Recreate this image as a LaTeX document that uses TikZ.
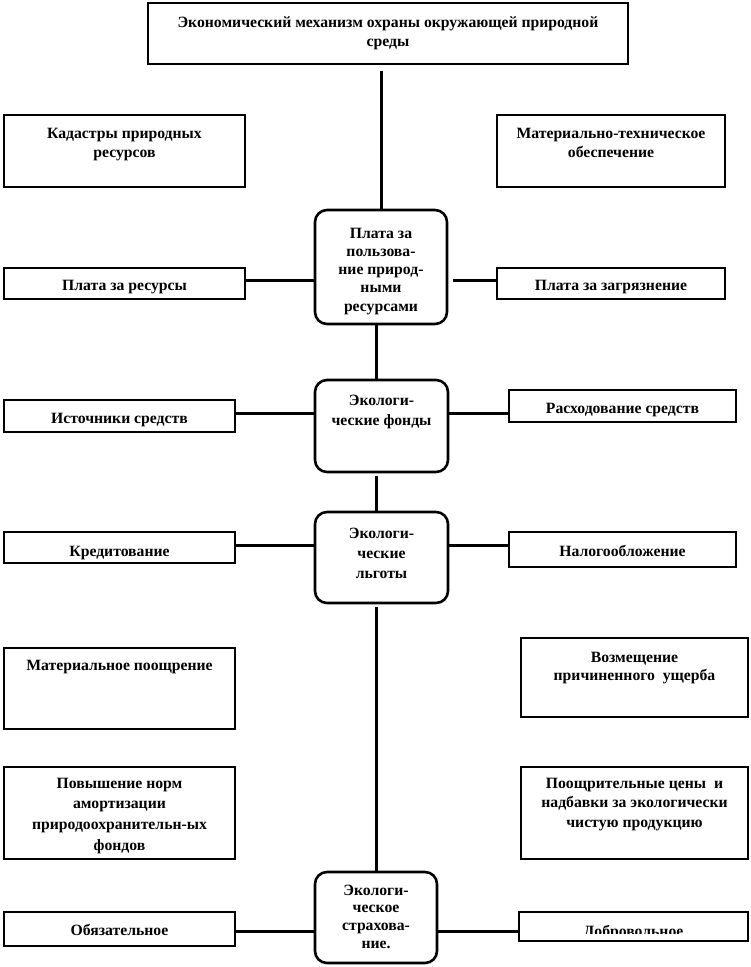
\documentclass[tikz,border=0pt]{standalone}
\usepackage{fontspec}
\setmainfont{Liberation Serif}
\usetikzlibrary{calc}
\newcommand\mybox[9]{%
  \node[#1] (#2) at ({(#3+#5)/2},{(#4+#6)/2})
    {\parbox[c][\dimexpr#6pt-#4pt\relax][t]{\dimexpr#5pt-#3pt\relax}{\centering\fontsize{15.7}{#8}\selectfont\bfseries
     \vspace*{\dimexpr#7pt-#4pt-11pt\relax}\rule{0pt}{11pt}#9\par}};}
\begin{document}
\begin{tikzpicture}[x=1pt,y=-1pt,
  sqbox/.style={draw,line width=2.6pt,inner sep=0pt,fill=white},
  rbox/.style={draw,line width=2.6pt,inner sep=0pt,rounded corners=12pt,fill=white},
  conn/.style={line width=3pt},
  txt/.style={inner sep=0pt,font=\fontsize{15.7}{18}\selectfont\bfseries}]
\useasboundingbox (0,0) rectangle (751,967);
% top
\mybox{sqbox}{top}{148}{3}{628}{64}{27}{19}{Экономический механизм охраны окружающей природной\\среды}
\mybox{sqbox}{kadastr}{4}{115}{245}{187}{138}{19}{Кадастры природных\\ресурсов}
\mybox{sqbox}{mattech}{497}{115}{725}{187}{138}{19}{Материально-техническое\\обеспечение}
% plata
\mybox{rbox}{plata}{315}{210}{447}{324}{238}{18.3}{Плата за\\пользова-\\ние природ-\\ными\\ресурсами}
\mybox{sqbox}{platares}{4}{268}{245}{299}{290}{19}{Плата за ресурсы}
\mybox{sqbox}{platazagr}{497}{268}{725}{299}{290}{19}{Плата за загрязнение}
% fondy
\mybox{rbox}{fondy}{315}{380}{448}{472}{405}{20}{Экологи-\\ческие фонды}
\mybox{sqbox}{istoch}{4}{400}{235}{432}{423}{19}{Источники средств}
\mybox{sqbox}{raskh}{509}{390}{736}{422}{413}{19}{Расходование средств}
% lgoty
\mybox{rbox}{lgoty}{315}{512}{448}{603}{538}{20}{Экологи-\\ческие\\льготы}
\mybox{sqbox}{kredit}{4}{532}{235}{563}{556}{19}{Кредитование}
\mybox{sqbox}{nalog}{509}{532}{736}{567}{556}{19}{Налогообложение}
% middle
\mybox{sqbox}{matpoo}{4}{648}{235}{729}{670}{19}{Материальное поощрение}
\mybox{sqbox}{vozm}{521}{638}{748}{717}{662}{18.5}{Возмещение\\причиненного~ ущерба}
\mybox{sqbox}{povysh}{4}{767}{235}{859}{788}{20.8}{Повышение норм\\амортизации\\природоохранительн-ых\\фондов}
\mybox{sqbox}{pooshch}{521}{767}{748}{859}{788}{19.5}{Поощрительные цены~ и\\надбавки за экологически\\чистую продукцию}
% strakh
\mybox{rbox}{strakh}{315}{872}{437}{963}{895}{17.8}{Экологи-\\ческое\\страхова-\\ние.}
\mybox{sqbox}{obyaz}{4}{912}{235}{946}{935}{19}{Обязательное}
\mybox{sqbox}{dobr}{519}{912}{748}{941}{960}{19}{}
\begin{scope}
\clip (522,914) rectangle (745,933);
\node[txt,anchor=base] (dobrtxt) at (633.5,936) {Добровольное};
\end{scope}
% connectors
\draw[conn] ([yshift=-6pt]top.south -| plata.north) -- (plata.north);
\draw[conn] ([xshift=-5pt]plata.south) -- ([xshift=-5pt]plata.south |- fondy.north);
\draw[conn] ([xshift=-5.5pt,yshift=-3pt]fondy.south) -- ([xshift=-5.5pt]lgoty.north);
\draw[conn] ([xshift=-5.5pt,yshift=-3pt]lgoty.south) -- ([xshift=-5.5pt,yshift=0pt]lgoty.south |- strakh.north);
\draw[conn] (platares.east |- {(0,280)}) -- (plata.west |- {(0,280)});
\draw[conn] ([xshift=5pt]plata.east |- {(0,280)}) -- (platazagr.west |- {(0,280)});
\draw[conn] (istoch.east |- {(0,413)}) -- (fondy.west |- {(0,413)});
\draw[conn] (fondy.east |- {(0,413)}) -- (raskh.west |- {(0,413)});
\draw[conn] (kredit.east |- {(0,545)}) -- (lgoty.west |- {(0,545)});
\draw[conn] (lgoty.east |- {(0,545)}) -- (nalog.west |- {(0,545)});
\draw[conn] (obyaz.east |- {(0,931)}) -- (strakh.west |- {(0,931)});
\draw[conn] (strakh.east |- {(0,931)}) -- (dobr.west |- {(0,931)});
\end{tikzpicture}
\end{document}
